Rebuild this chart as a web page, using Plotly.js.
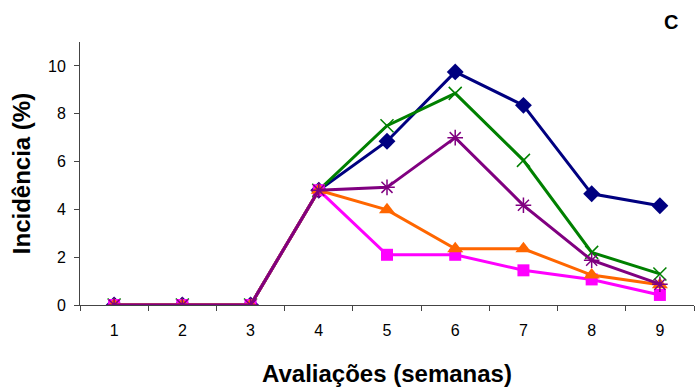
<!DOCTYPE html>
<html>
<head>
<meta charset="utf-8">
<script src="https://cdn.plot.ly/plotly-3.0.1.min.js"></script>
<style>html,body{margin:0;padding:0;background:#fff;}#chart{width:699px;height:389px;}</style>
</head>
<body>
<div id="chart"></div>
<script>
const weeks = ['1','2','3','4','5','6','7','8','9'];
const seriesBlue    = [0, 0, 0, 4.8, 6.85, 9.75, 8.35, 4.65, 4.15];
const seriesGreen   = [0, 0, 0, 4.8, 7.5, 8.85, 6.05, 2.2, 1.3];
const seriesMagenta = [0, 0, 0, 4.8, 2.1, 2.1, 1.45, 1.07, 0.42];
const seriesOrange  = [0, 0, 0, 4.8, 3.98, 2.35, 2.35, 1.25, 0.85];
const seriesPurple  = [0, 0, 0, 4.8, 4.92, 7.0, 4.17, 1.87, 0.87];
const yTicks = [0, 2, 4, 6, 8, 10];

function tr(y, color, symbol, size, lw) {
  return {x: weeks, y: y, type: 'scatter', mode: 'lines+markers',
    line: {color: color, width: 3},
    marker: {color: color, symbol: symbol, size: size, line: {color: color, width: lw || 0}},
    showlegend: false, hoverinfo: 'skip'};
}
const data = [
  tr(seriesBlue, '#000080', 'diamond', 13),
  tr(seriesGreen, '#008000', 'x-thin', 13, 1.5),
  tr(seriesMagenta, '#FF00FF', 'square', 12),
  tr(seriesOrange, '#FF6600', 'triangle-up', 14),
  tr(seriesPurple, '#800080', 'asterisk', 13, 1.5)
];
const layout = {
  width: 699, height: 389,
  margin: {l: 80, r: 5, t: 42, b: 84},
  paper_bgcolor: '#fff', plot_bgcolor: '#fff',
  font: {family: 'Liberation Sans, Arial, sans-serif', color: '#000', size: 16},
  xaxis: {type: 'category', tickson: 'boundaries', ticks: 'outside', ticklen: 5,
    tickcolor: '#444', showline: true, linecolor: '#444', linewidth: 1,
    showgrid: false, zeroline: false, tickfont: {size: 16}, ticklabelstandoff: 11,
    range: [-0.5, 8.5],
    title: {text: 'Avaliações (semanas)', font: {size: 24, weight: 'bold'}, standoff: 26}},
  yaxis: {range: [0, 11], tickvals: yTicks, ticks: 'outside', ticklen: 5,
    tickcolor: '#444', showline: true, linecolor: '#444', linewidth: 1,
    showgrid: false, zeroline: false, tickfont: {size: 16}, ticklabelstandoff: 5,
    title: {text: 'Incidência (%)', font: {size: 24, weight: 'bold'}, standoff: 10}},
  annotations: [{text: 'C', xref: 'paper', yref: 'paper', x: 0.962, y: 1.075,
    xanchor: 'center', yanchor: 'middle', showarrow: false,
    font: {size: 20, weight: 'bold'}}]
};
Plotly.newPlot('chart', data, layout, {staticPlot: true, displayModeBar: false});
</script>
</body>
</html>
